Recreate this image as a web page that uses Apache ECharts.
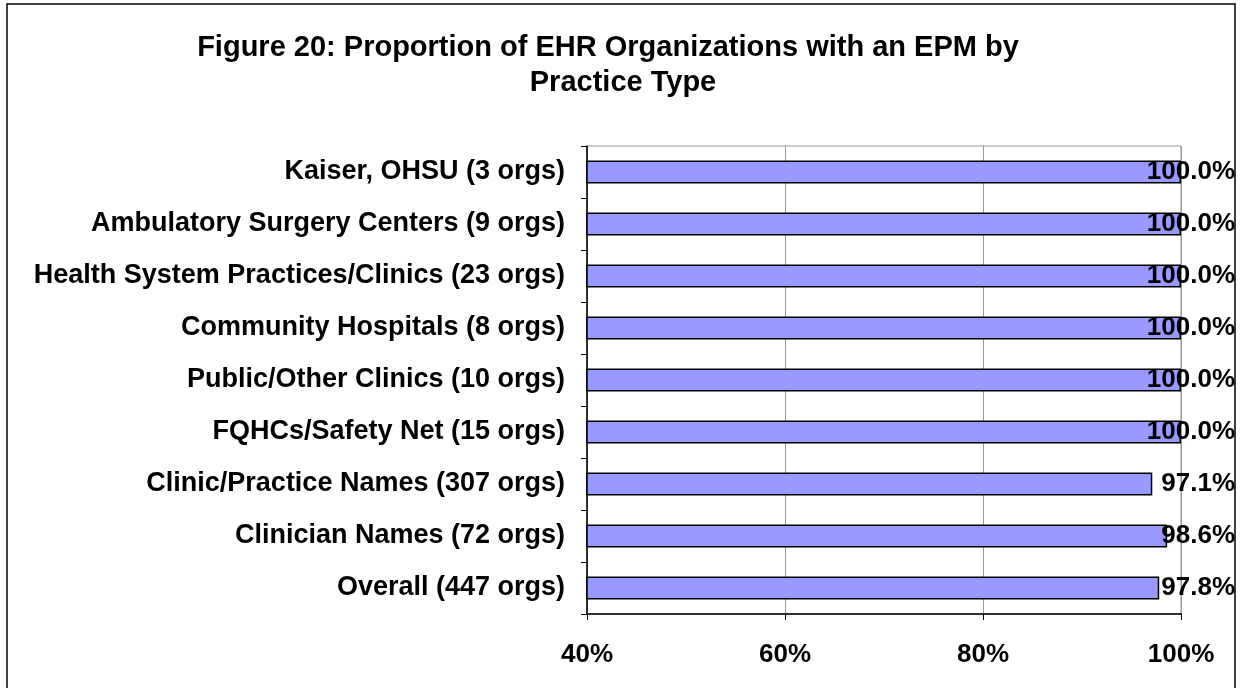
<!DOCTYPE html>
<html><head><meta charset="utf-8">
<script src="https://cdn.jsdelivr.net/npm/echarts@6/dist/echarts.min.js"></script>
<style>html,body{margin:0;padding:0;background:#fff}#c{width:1243px;height:688px}</style>
</head><body><div id="c"></div>
<script>
const titleLine1 = 'Figure 20: Proportion of EHR Organizations with an EPM by';
const titleLine2 = 'Practice Type';
const categories = [
  'Kaiser, OHSU (3 orgs)',
  'Ambulatory Surgery Centers (9 orgs)',
  'Health System Practices/Clinics (23 orgs)',
  'Community Hospitals (8 orgs)',
  'Public/Other Clinics (10 orgs)',
  'FQHCs/Safety Net (15 orgs)',
  'Clinic/Practice Names (307 orgs)',
  'Clinician Names (72 orgs)',
  'Overall (447 orgs)'
];
const values = [100.0, 100.0, 100.0, 100.0, 100.0, 100.0, 97.1, 98.6, 97.8];
const axisMin = 40, axisMax = 100, axisStep = 20;

const FONT = '"Liberation Sans", Arial, sans-serif';
const titleStyle = {fontFamily: FONT, fontWeight: 'bold', fontSize: 29, color: '#000'};
const chart = echarts.init(document.getElementById('c'), null, {renderer: 'canvas'});
chart.setOption({
  backgroundColor: '#fff',
  animation: false,
  title: [
    {text: titleLine1, left: 608, top: 33, textAlign: 'center', padding: 0, textStyle: titleStyle},
    {text: titleLine2, left: 623, top: 68, textAlign: 'center', padding: 0, textStyle: titleStyle}
  ],
  graphic: [{
    type: 'rect', shape: {x: 7, y: 4, width: 1228, height: 700},
    style: {fill: 'none', stroke: '#000', lineWidth: 1.5}, silent: true, z: 100
  }],
  grid: {left: 587, right: 62, top: 146, bottom: 74, show: true, borderColor: '#999', borderWidth: 1, backgroundColor: 'transparent'},
  xAxis: {
    type: 'value', min: axisMin, max: axisMax, interval: axisStep,
    axisLine: {show: true, lineStyle: {color: '#000', width: 1.5}},
    axisTick: {show: true, length: 6, lineStyle: {color: '#000'}},
    splitLine: {show: true, lineStyle: {color: '#999', width: 1}},
    axisLabel: {formatter: '{value}%', margin: 28, fontFamily: FONT, fontWeight: 'bold', fontSize: 26, color: '#000'}
  },
  yAxis: {
    type: 'category', data: categories, inverse: true,
    axisLine: {show: true, lineStyle: {color: '#000', width: 1.5}},
    axisTick: {show: true, length: 6, lineStyle: {color: '#000'}},
    axisLabel: {margin: 22, fontFamily: FONT, fontWeight: 'bold', fontSize: 27, color: '#000'}
  },
  series: [{
    type: 'bar', data: values, barWidth: 23,
    itemStyle: {color: '#9999FF', borderColor: '#000', borderWidth: 1.5}
  }, {
    type: 'custom', data: values.map((v, i) => [v, i]), z: 10,
    encode: {x: 0, y: 1},
    renderItem: function (params, api) {
      const p = api.coord([axisMax, api.value(1)]);
      return {
        type: 'text', x: p[0] + 54, y: p[1],
        style: {text: api.value(0).toFixed(1) + '%', textAlign: 'right', textVerticalAlign: 'middle',
          font: 'bold 26px ' + FONT, fill: '#000'}
      };
    }
  }]
});
</script></body></html>
